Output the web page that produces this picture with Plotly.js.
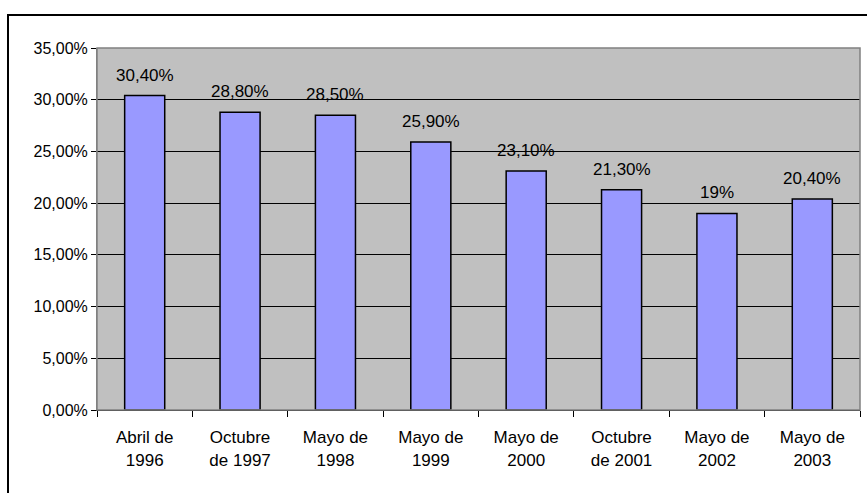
<!DOCTYPE html>
<html>
<head>
<meta charset="utf-8">
<script src="https://cdn.plot.ly/plotly-3.0.1.min.js"></script>
<style>html,body{margin:0;padding:0;background:#fff;}#chart{width:867px;height:493px;}</style>
</head>
<body>
<div id="chart"></div>
<script>
var categories = ["Abril de<br>1996", "Octubre<br>de 1997", "Mayo de<br>1998", "Mayo de<br>1999", "Mayo de<br>2000", "Octubre<br>de 2001", "Mayo de<br>2002", "Mayo de<br>2003"];
var values = [0.304, 0.288, 0.285, 0.259, 0.231, 0.213, 0.19, 0.204];
var valueLabels = ["30,40%", "28,80%", "28,50%", "25,90%", "23,10%", "21,30%", "19%", "20,40%"];
var yTickVals = [0, 0.05, 0.10, 0.15, 0.20, 0.25, 0.30, 0.35];
var yTickText = ["0,00%", "5,00%", "10,00%", "15,00%", "20,00%", "25,00%", "30,00%", "35,00%"];

var fontFam = "Liberation Sans, Arial, sans-serif";
var W = 867, H = 493, ml = 97, mr = 7, mt = 48, mb = 83;
var pw = W - ml - mr, ph = H - mt - mb;

var trace = {
  type: "bar",
  x: categories,
  y: values,
  marker: {color: "#9999FF", line: {color: "#000000", width: 1.5}},
  hoverinfo: "none"
};

var annotations = categories.map(function(c, i) {
  return {x: c, y: values[i], xref: "x", yref: "y", text: valueLabels[i],
    showarrow: false, yanchor: "bottom", yshift: 9,
    font: {family: fontFam, size: 17, color: "#000"}};
});

var layout = {
  width: W, height: H,
  margin: {l: ml, r: mr, t: mt, b: mb, pad: 0},
  paper_bgcolor: "#FFFFFF",
  plot_bgcolor: "#C0C0C0",
  showlegend: false,
  bargap: 0.58,
  font: {family: fontFam, size: 16, color: "#000"},
  xaxis: {
    type: "category",
    showgrid: false,
    showline: true, linecolor: "#000", linewidth: 1,
    ticks: "outside", tickson: "boundaries", ticklen: 6, tickcolor: "#000",
    ticklabelstandoff: 12,
    tickfont: {family: fontFam, size: 17, color: "#000"},
    fixedrange: true
  },
  yaxis: {
    range: [0, 0.35],
    tickvals: yTickVals, ticktext: yTickText,
    showgrid: true, gridcolor: "#000", gridwidth: 1,
    showline: true, linecolor: "#808080", linewidth: 1,
    ticks: "outside", ticklen: 5, tickcolor: "#000",
    tickfont: {family: fontFam, size: 16, color: "#000"},
    zeroline: false,
    fixedrange: true
  },
  annotations: annotations,
  shapes: [
    {type: "rect", xref: "paper", yref: "paper", x0: 0, x1: 1, y0: 0, y1: 1,
     line: {color: "#808080", width: 1.5}, fillcolor: "rgba(0,0,0,0)", layer: "above"},
    {type: "rect", xref: "paper", yref: "paper",
     x0: (8 - ml) / pw, x1: (W + 10 - ml) / pw,
     y0: -(H + 10 - mt - ph) / ph, y1: 1 + (mt - 15) / ph,
     line: {color: "#000", width: 2}, fillcolor: "rgba(0,0,0,0)", layer: "above"}
  ]
};

Plotly.newPlot("chart", [trace], layout, {displayModeBar: false, staticPlot: true});
</script>
</body>
</html>
